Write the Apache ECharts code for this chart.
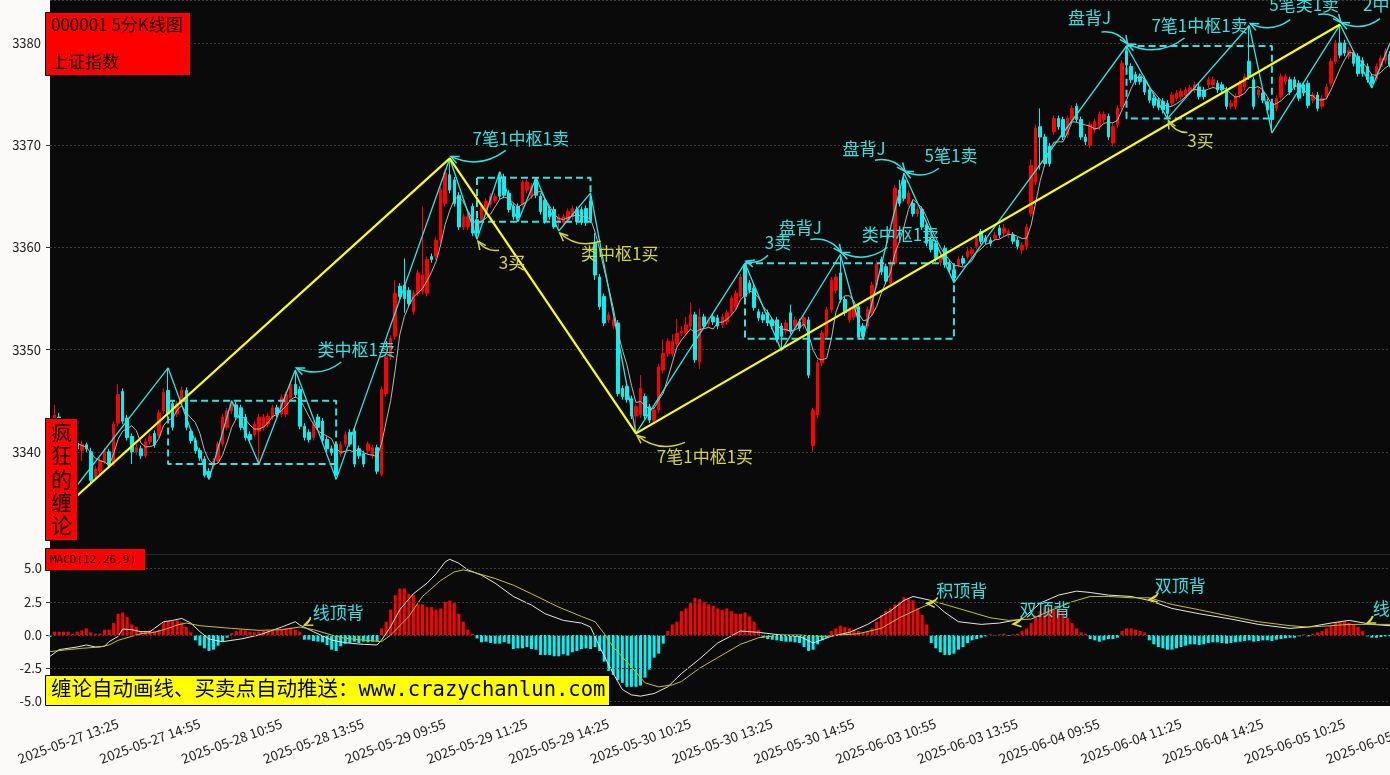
<!DOCTYPE html>
<html><head><meta charset="utf-8">
<script src="https://cdn.jsdelivr.net/npm/echarts@6/dist/echarts.min.js"></script>
<style>html,body{margin:0;padding:0;background:#fcf9f9;}#c{width:1390px;height:775px;}</style>
</head><body><div id="c"></div>
<script>
// ---------------- DATA ----------------
const tradingDays = ['2025-05-27','2025-05-28','2025-05-29','2025-05-30','2025-06-03','2025-06-04','2025-06-05'];
const firstBarTime = '13:05';
// [open, close, low, high]
const ohlc = [
[3334.6,3334.0,3333.3,3335.4],[3334.2,3343.6,3334.0,3344.6],[3343.4,3342.0,3341.6,3343.8],[3342.1,3341.0,3340.7,3342.4],[3341.0,3340.2,3339.9,3341.4],
[3340.2,3340.8,3339.9,3341.1],[3340.8,3340.3,3340.0,3341.2],[3340.1,3340.75,3339.1,3341.1],[3340.7,3340.3,3340.0,3340.9],[3340.0,3337.2,3336.9,3340.4],
[3337.5,3338.3,3337.2,3338.6],[3338.1,3339.1,3337.8,3339.4],[3339.0,3340.1,3338.8,3340.4],[3340.0,3338.7,3338.4,3340.3],[3338.8,3342.7,3338.6,3343.0],
[3342.8,3345.6,3342.5,3346.6],[3345.9,3343.0,3342.7,3346.2],[3343.3,3341.4,3341.1,3343.6],[3341.5,3340.0,3338.8,3341.8],[3340.0,3340.4,3339.7,3340.8],
[3340.3,3339.6,3339.3,3340.6],[3339.6,3341.0,3339.4,3341.3],[3341.0,3341.5,3340.7,3341.8],[3341.8,3340.7,3340.4,3342.1],[3341.6,3343.8,3341.3,3344.1],
[3344.0,3345.8,3343.7,3346.2],[3346.0,3343.7,3343.4,3348.2],[3344.7,3342.4,3342.1,3345.0],[3343.7,3344.7,3343.4,3345.0],[3344.7,3346.0,3344.4,3346.4],
[3346.0,3342.4,3342.1,3346.3],[3342.0,3341.1,3340.8,3342.3],[3341.1,3340.1,3339.8,3341.4],[3340.1,3339.4,3339.1,3340.4],[3339.3,3337.7,3337.5,3339.6],
[3338.1,3337.5,3337.3,3338.4],[3338.6,3339.1,3338.3,3339.4],[3339.1,3340.75,3338.9,3341.0],[3340.75,3343.4,3340.5,3343.7],[3342.4,3344.0,3342.1,3344.3],
[3344.0,3344.7,3343.7,3345.0],[3344.6,3343.4,3343.1,3344.9],[3344.3,3342.4,3342.1,3344.6],[3343.4,3341.4,3341.1,3343.7],[3341.7,3341.2,3340.9,3342.0],
[3341.7,3342.7,3341.4,3343.0],[3342.0,3343.4,3338.8,3343.7],[3342.4,3343.4,3342.1,3343.7],[3342.7,3343.5,3342.4,3343.8],[3343.4,3344.3,3343.1,3344.6],
[3344.3,3343.7,3343.4,3344.6],[3343.7,3345.3,3343.4,3345.6],[3343.7,3345.6,3343.4,3345.9],[3345.3,3346.6,3345.0,3346.9],[3346.6,3345.6,3345.3,3348.0],
[3346.1,3342.5,3342.2,3346.4],[3342.5,3341.4,3341.1,3342.8],[3341.9,3341.2,3340.9,3342.2],[3341.4,3342.7,3341.1,3343.0],[3343.4,3342.4,3342.1,3343.7],
[3343.0,3341.1,3340.8,3343.3],[3341.2,3340.3,3340.0,3341.5],[3340.3,3339.9,3339.6,3340.6],[3340.7,3337.7,3337.3,3341.0],[3339.8,3340.7,3339.5,3341.0],
[3340.75,3341.7,3340.5,3342.0],[3341.9,3340.75,3340.5,3342.2],[3342.0,3338.8,3338.5,3342.3],[3340.3,3339.6,3339.3,3340.6],[3339.8,3338.8,3338.5,3340.1],
[3340.1,3340.75,3339.8,3341.0],[3339.6,3340.4,3339.3,3340.7],[3340.4,3338.1,3337.8,3340.7],[3337.8,3346.1,3337.6,3346.4],[3345.7,3349.3,3345.4,3349.6],
[3349.3,3351.1,3349.0,3351.4],[3351.3,3355.5,3351.0,3356.8],[3356.2,3355.2,3354.9,3356.5],[3356.3,3355.0,3353.6,3358.9],[3355.8,3354.5,3354.2,3356.1],
[3353.7,3355.5,3353.4,3355.8],[3355.5,3357.5,3355.2,3357.8],[3355.7,3357.3,3355.4,3364.0],[3355.5,3358.8,3355.2,3359.1],[3359.1,3358.8,3358.5,3359.4],
[3359.1,3360.7,3358.8,3361.0],[3360.7,3365.6,3360.4,3365.9],[3364.3,3367.3,3364.0,3367.6],[3367.1,3365.6,3365.3,3368.7],[3366.6,3364.3,3364.0,3366.9],
[3365.1,3362.0,3361.7,3365.4],[3362.0,3363.0,3361.7,3363.3],[3362.0,3363.0,3361.7,3363.3],[3364.0,3361.4,3361.1,3364.3],[3362.7,3361.4,3360.8,3363.0],
[3362.7,3364.0,3362.4,3364.3],[3363.5,3364.5,3363.2,3364.8],[3364.2,3365.0,3363.9,3365.3],[3364.6,3365.0,3364.3,3365.3],[3366.9,3365.0,3364.7,3367.4],
[3366.9,3365.1,3364.8,3367.2],[3365.3,3363.7,3363.4,3365.6],[3364.0,3363.0,3362.7,3364.3],[3364.0,3362.9,3362.5,3364.3],[3364.2,3366.4,3363.9,3366.6],
[3365.6,3366.4,3365.3,3366.7],[3365.0,3366.0,3364.7,3366.3],[3366.6,3365.1,3364.8,3366.8],[3365.0,3363.5,3363.2,3365.3],[3364.6,3362.6,3362.3,3364.9],
[3363.7,3363.0,3362.7,3364.0],[3363.7,3362.0,3361.8,3364.0],[3362.4,3363.0,3361.6,3363.3],[3362.4,3363.0,3362.1,3363.3],[3362.7,3363.5,3362.4,3363.8],
[3363.0,3363.8,3362.7,3364.1],[3363.7,3362.5,3362.2,3364.0],[3363.7,3362.5,3362.2,3364.0],[3363.8,3362.4,3362.1,3364.1],[3364.5,3362.7,3362.4,3365.3],
[3360.5,3357.3,3356.8,3361.4],[3357.1,3354.2,3353.9,3357.4],[3355.2,3352.6,3352.3,3355.5],[3352.9,3353.4,3352.6,3353.7],[3352.3,3352.9,3352.0,3353.2],
[3352.6,3345.7,3345.4,3352.9],[3346.2,3345.4,3345.1,3346.5],[3346.4,3345.1,3344.8,3346.7],[3345.2,3343.5,3343.2,3345.5],[3343.5,3344.4,3341.8,3344.7],
[3343.6,3346.2,3343.3,3347.5],[3345.4,3343.5,3343.2,3345.7],[3344.4,3343.1,3342.8,3344.7],[3343.1,3344.1,3342.8,3344.4],[3344.1,3348.3,3343.8,3348.6],
[3348.0,3349.6,3347.7,3351.0],[3349.6,3350.8,3349.3,3351.1],[3349.6,3350.8,3349.3,3351.5],[3350.6,3351.6,3350.3,3353.0],[3351.6,3351.8,3351.3,3352.3],
[3351.6,3352.4,3351.3,3353.2],[3352.3,3353.4,3352.0,3354.6],[3353.4,3349.0,3348.7,3353.7],[3348.8,3353.2,3348.1,3354.0],[3353.2,3352.3,3352.0,3353.5],
[3352.5,3352.9,3352.2,3353.2],[3353.2,3352.7,3352.4,3353.5],[3353.1,3352.3,3352.0,3353.4],[3352.4,3353.2,3352.1,3353.5],[3352.7,3353.6,3352.4,3353.9],
[3353.6,3355.0,3353.3,3355.3],[3354.2,3355.5,3353.9,3355.8],[3355.2,3357.1,3354.9,3357.4],[3358.3,3355.2,3354.9,3358.45],[3356.5,3355.8,3355.5,3356.8],
[3356.0,3354.1,3353.8,3356.3],[3353.7,3353.1,3352.8,3354.0],[3353.4,3352.9,3352.6,3353.7],[3353.6,3352.6,3352.3,3353.9],[3352.9,3352.3,3352.0,3353.2],
[3352.9,3351.0,3350.7,3353.2],[3352.3,3351.3,3349.9,3352.6],[3351.8,3352.6,3351.5,3352.9],[3353.6,3351.8,3351.5,3354.4],[3352.3,3352.9,3352.0,3353.2],
[3352.7,3352.1,3351.8,3353.0],[3352.3,3353.1,3352.0,3353.4],[3352.9,3347.5,3347.2,3353.2],[3340.6,3344.1,3340.0,3344.3],[3343.6,3348.7,3343.3,3349.0],
[3348.7,3351.6,3348.4,3351.9],[3351.3,3353.9,3351.0,3354.2],[3353.9,3356.8,3353.6,3357.1],[3355.8,3357.1,3355.5,3357.4],[3357.5,3354.9,3354.6,3359.3],
[3354.9,3353.6,3353.3,3355.2],[3352.9,3353.9,3352.6,3354.2],[3353.2,3354.2,3352.9,3354.5],[3354.2,3351.2,3351.2,3354.5],[3352.3,3351.3,3351.05,3352.6],
[3352.3,3353.9,3352.0,3354.2],[3353.6,3356.3,3353.3,3356.6],[3356.3,3358.4,3356.0,3358.7],[3358.8,3357.6,3357.3,3359.1],[3358.1,3356.7,3356.4,3358.4],
[3356.5,3358.45,3356.2,3358.8],[3358.45,3365.8,3358.2,3366.1],[3365.6,3364.3,3364.0,3366.6],[3366.6,3364.8,3364.5,3367.25],[3364.3,3365.3,3364.0,3365.6],
[3364.3,3363.3,3363.0,3364.6],[3363.3,3363.7,3363.0,3364.0],[3363.7,3362.0,3361.7,3364.0],[3362.2,3360.4,3360.1,3362.5],[3360.7,3359.8,3359.5,3361.0],
[3360.4,3358.9,3358.6,3360.7],[3358.5,3359.1,3358.2,3359.4],[3359.9,3358.3,3358.0,3360.2],[3358.45,3357.8,3357.5,3358.8],[3357.8,3357.0,3356.55,3358.1],
[3358.3,3358.8,3358.0,3359.1],[3358.9,3358.45,3358.2,3359.2],[3359.1,3359.6,3358.8,3359.9],[3359.4,3359.75,3359.1,3360.0],[3360.1,3360.9,3359.8,3361.2],
[3361.55,3360.6,3360.3,3361.8],[3360.9,3360.6,3360.3,3361.2],[3360.7,3360.4,3360.1,3361.0],[3360.9,3361.2,3360.6,3361.5],[3361.9,3361.2,3360.9,3362.2],
[3361.4,3361.9,3361.1,3362.3],[3361.2,3361.55,3360.9,3361.8],[3361.2,3360.6,3360.3,3361.5],[3360.7,3360.1,3359.8,3361.0],[3359.75,3360.2,3359.3,3360.5],
[3360.1,3362.0,3359.8,3362.3],[3363.3,3368.0,3363.0,3368.6],[3366.4,3371.65,3366.1,3372.0],[3371.8,3370.8,3367.6,3373.6],[3370.8,3368.2,3367.9,3371.1],
[3369.9,3368.2,3367.9,3370.2],[3371.3,3372.6,3371.0,3372.9],[3372.6,3371.8,3371.5,3372.9],[3372.5,3370.8,3370.5,3372.8],[3371.0,3372.6,3370.7,3372.9],
[3372.5,3373.6,3372.2,3373.9],[3373.8,3372.5,3372.2,3374.1],[3372.5,3370.8,3370.5,3372.8],[3370.8,3370.35,3370.0,3371.1],[3370.0,3372.0,3369.7,3372.3],
[3371.5,3372.3,3371.2,3372.6],[3371.8,3373.0,3371.5,3373.3],[3372.5,3373.0,3372.2,3373.3],[3372.8,3370.8,3370.5,3373.1],[3370.2,3371.8,3369.9,3372.1],
[3372.0,3373.6,3371.7,3373.9],[3373.8,3378.0,3373.5,3378.3],[3379.2,3377.85,3377.5,3379.7],[3377.7,3376.4,3376.1,3378.0],[3376.9,3376.2,3375.9,3377.2],
[3376.7,3376.2,3375.9,3377.0],[3376.4,3375.2,3374.9,3376.7],[3375.4,3374.4,3374.1,3375.7],[3374.6,3373.9,3373.6,3374.9],[3374.4,3373.7,3373.4,3374.7],
[3374.3,3373.45,3373.1,3374.6],[3374.1,3373.1,3372.6,3374.4],[3374.1,3374.9,3373.8,3375.2],[3374.6,3375.1,3374.3,3375.4],[3374.75,3375.25,3374.45,3375.55],
[3374.9,3375.4,3374.6,3375.7],[3375.2,3375.6,3374.9,3375.9],[3375.4,3375.9,3375.1,3376.2],[3375.7,3374.75,3374.45,3376.0],[3375.4,3374.75,3374.45,3375.7],
[3375.9,3376.4,3375.6,3376.7],[3375.9,3376.4,3375.6,3376.7],[3376.05,3375.4,3375.1,3376.35],[3375.9,3375.4,3375.1,3376.2],[3375.4,3373.8,3373.5,3375.7],
[3373.8,3374.1,3373.5,3374.4],[3373.8,3374.75,3373.5,3375.05],[3374.9,3376.05,3374.6,3376.35],[3375.7,3376.7,3375.4,3377.0],[3378.2,3376.7,3376.4,3381.7],
[3376.4,3373.8,3373.5,3376.7],[3374.9,3375.4,3374.6,3375.7],[3375.1,3374.4,3374.1,3375.4],[3374.25,3373.45,3373.15,3374.55],[3374.1,3372.5,3371.2,3374.4],
[3373.6,3374.6,3373.3,3374.9],[3374.75,3376.7,3374.45,3377.0],[3376.2,3376.7,3375.9,3377.0],[3376.4,3375.2,3374.9,3376.7],[3376.4,3375.7,3375.4,3376.7],
[3376.05,3374.6,3374.3,3376.35],[3375.9,3375.1,3374.8,3376.2],[3376.05,3373.9,3373.6,3376.35],[3374.4,3374.9,3374.1,3375.2],[3374.9,3373.6,3373.3,3375.2],
[3373.8,3374.6,3373.5,3374.9],[3374.75,3375.7,3374.45,3376.0],[3376.05,3378.2,3375.75,3378.5],[3378.2,3380.0,3377.9,3380.3],[3380.0,3378.8,3378.5,3381.8],
[3380.0,3379.0,3378.7,3380.3],[3378.7,3379.3,3378.4,3379.6],[3379.0,3378.0,3377.7,3379.3],[3378.7,3377.0,3376.7,3379.0],[3378.3,3377.0,3376.7,3378.6],
[3377.7,3376.4,3376.1,3378.0],[3376.7,3376.05,3375.6,3377.0],[3376.5,3377.7,3376.2,3378.0],[3377.7,3378.5,3377.4,3378.8],[3378.3,3379.2,3378.0,3379.5],
[3378.9,3377.9,3377.6,3379.2]
];
// Chan "bi" strokes (bar index, price)
const biPoints = [[0,3333.3],[26,3348.2],[35,3337.3],[40,3345.0],[46,3338.8],[54,3348.0],[63,3337.3],[88,3368.7],[94,3360.8],[99,3367.4],[103,3362.5],[107,3366.8],[112,3361.6],[119,3365.3],[129,3341.8],[153,3358.45],[161,3349.9],[174,3359.3],[179,3351.05],[188,3367.25],[199,3356.55],[237,3379.7],[246,3372.6],[264,3381.7],[269,3371.2],[284,3381.8],[291,3375.6],[295,3380.0]];
// line segments
const segPoints = [[0,3333.3],[88,3368.7],[129,3341.8],[284,3381.8]];
// pivot zones: [startIdx, endIdx, top, bottom]
const zhongshu = [[26,63,3345.0,3338.8],[94,119,3366.8,3362.5],[153,199,3358.45,3351.05],[237,269,3379.7,3372.6]];
// MACD histogram per bar
const macdHist = [
-0.15,0.25,0.25,0.25,0.25,0.1,0.25,0.35,0.5,0.2,
0.1,0.1,0.4,0.4,0.9,1.6,1.7,1.35,0.8,0.6,
0.3,0.3,0.35,0.3,0.4,1.0,1.05,1.05,1.1,0.95,
0.6,0.2,-0.4,-0.8,-1.0,-1.2,-1.1,-0.8,-0.5,-0.2,
0.15,0.3,0.4,0.35,0.25,0.2,0.25,0.3,0.3,0.35,
0.4,0.45,0.5,0.55,0.4,0.25,-0.35,-0.35,-0.45,-0.5,
-0.55,-0.75,-1.1,-1.2,-0.85,-0.65,-0.6,-0.5,-0.6,-0.5,
-0.55,-0.5,-0.45,0.5,1.0,1.9,3.0,3.5,3.5,3.1,
3.0,2.3,2.3,2.1,2.1,1.9,2.0,2.5,2.6,2.4,
1.6,1.0,0.4,0.1,-0.25,-0.55,-0.5,-0.6,-0.65,-0.65,
-0.55,-0.65,-1.05,-1.0,-1.0,-0.9,-1.05,-1.1,-1.5,-1.5,
-1.5,-1.6,-1.6,-1.45,-1.55,-1.3,-1.2,-1.05,-1.0,-1.05,
-0.9,-1.2,-2.0,-2.7,-3.0,-3.4,-3.6,-3.9,-3.9,-3.9,
-3.8,-3.2,-2.6,-1.7,-1.4,-0.65,0.3,0.8,1.0,1.8,
2.0,2.4,2.8,2.7,2.5,2.3,2.2,2.0,1.9,2.0,
1.8,1.6,1.6,1.7,1.4,1.0,0.4,-0.2,-0.3,-0.35,
-0.4,-0.45,-0.5,-0.5,-0.55,-0.6,-0.9,-1.2,-1.1,-0.7,
-0.4,-0.2,0.3,0.5,0.7,0.6,0.5,0.4,0.3,0.2,
0.3,0.5,1.0,1.5,1.8,2.0,2.3,2.5,2.85,2.7,
2.6,2.0,1.5,0.8,-0.6,-1.0,-1.3,-1.5,-1.5,-1.4,
-1.1,-0.9,-0.6,-0.4,-0.3,-0.2,-0.1,0.05,-0.05,0.05,
0.1,-0.05,0.05,0.1,0.3,0.5,0.9,1.4,1.8,2.1,
2.0,1.9,2.0,1.7,1.3,0.9,0.5,0.2,0.1,-0.3,
-0.4,-0.5,-0.4,-0.3,-0.3,-0.2,0.3,0.5,0.5,0.4,
0.3,0.2,-0.4,-0.7,-0.9,-1.0,-1.1,-1.1,-1.0,-0.9,
-0.8,-0.7,-0.7,-0.75,-0.7,-0.6,-0.55,-0.55,-0.6,-0.65,
-0.6,-0.55,-0.5,-0.45,-0.4,-0.5,-0.45,-0.4,-0.4,-0.45,
-0.35,-0.3,-0.25,-0.2,-0.2,-0.1,0.05,-0.1,0.1,0.2,
0.3,0.5,0.7,0.9,1.0,1.0,0.9,0.8,0.6,0.3,
-0.1,-0.2,-0.2,-0.15,-0.1,-0.1
];
const difPoints = [[0,-1.6],[2,-1.1],[4,-1.0],[6,-0.9],[8,-0.75],[10,-0.9],[12,-0.85],[13,-0.5],[15,-0.1],[16,0.45],[18,0.4],[20,0.25],[22,0.25],[23,0.5],[25,1.0],[27,1.1],[29,1.25],[31,0.9],[33,0.25],[35,-0.3],[38,-0.5],[42,-0.3],[46,0.0],[51,0.6],[54,1.0],[55,0.75],[58,0.25],[62,-0.38],[65,-0.58],[68,-0.68],[72,-0.75],[73,-0.38],[75,0.63],[77,1.9],[80,3.1],[83,3.9],[85,4.6],[87,5.5],[88,5.7],[90,5.4],[92,4.9],[95,4.5],[98,3.9],[102,2.9],[106,2.25],[109,1.6],[113,1.1],[117,0.9],[119,0.6],[121,-0.9],[124,-2.9],[126,-4.1],[128,-4.5],[130,-4.6],[133,-4.4],[136,-3.9],[139,-2.9],[143,-1.8],[147,-0.6],[152,0.3],[156,0.2],[161,0.0],[165,-0.1],[168,-0.6],[172,-0.1],[176,0.2],[180,0.8],[185,1.8],[188,2.6],[190,2.9],[194,2.6],[197,1.7],[200,1.0],[205,0.8],[209,0.9],[214,1.2],[218,2.4],[222,3.0],[226,3.3],[229,3.2],[233,3.0],[238,2.9],[242,2.6],[247,2.0],[253,1.6],[260,1.2],[266,0.8],[273,0.5],[277,0.6],[282,0.9],[286,1.1],[291,0.8],[295,0.7]];
const deaPoints = [[0,-1.25],[4,-1.1],[7,-1.0],[11,-0.9],[13,-0.75],[15,-0.4],[18,-0.1],[20,0.1],[23,0.2],[26,0.5],[28,0.75],[30,0.9],[33,0.7],[40,0.5],[46,0.35],[51,0.4],[55,0.6],[58,0.4],[62,0.0],[65,-0.25],[69,-0.38],[73,-0.5],[75,0.0],[79,1.4],[82,2.9],[86,4.1],[89,4.75],[91,4.9],[93,4.75],[98,4.25],[102,3.75],[106,3.1],[112,2.1],[117,1.4],[120,1.0],[122,0.1],[124,-0.9],[128,-2.4],[131,-3.6],[134,-3.9],[137,-3.75],[139,-3.5],[143,-2.5],[148,-1.5],[152,-0.7],[156,-0.2],[161,0.0],[165,0.0],[170,-0.1],[174,0.0],[178,0.1],[183,0.5],[187,1.3],[192,2.1],[195,2.5],[198,2.2],[203,1.7],[207,1.3],[211,1.1],[216,1.2],[220,1.8],[225,2.5],[229,2.9],[233,2.9],[238,2.8],[242,2.8],[247,2.3],[253,1.9],[260,1.4],[266,1.0],[273,0.7],[277,0.6],[282,0.7],[286,0.8],[291,0.8],[295,0.8]];
const priceTicks = [3340,3350,3360,3370,3380];
const macdTicks = [-5,-2.5,0,2.5,5];
// annotations: text, anchor [barIndex, value], colour kind
const mainNotes = [
 ['类中枢1卖',[54,3348.0],'c'],['7笔1中枢1卖',[88,3368.7],'c'],['3买',[94,3360.8],'y'],['类中枢1买',[112,3361.6],'y'],
 ['7笔1中枢1买',[129,3341.8],'y'],['3卖',[153,3358.45],'c'],['盘背J',[174,3359.3],'c'],['类中枢1卖',[174,3359.3],'c'],
 ['盘背J',[188,3367.25],'c'],['5笔1卖',[188,3367.25],'c'],['盘背J',[237,3379.7],'c'],['7笔1中枢1卖',[237,3379.7],'c'],
 ['3买',[246,3372.6],'y'],['5笔类1卖',[264,3381.7],'c'],['',[284,3381.8],'c'],['2中枢1卖',[284,3381.8],'c']
];
const macdNotes = [['线顶背',[56,0.68]],['积顶背',[193,2.3]],['双顶背',[212,0.75]],['双顶背',[242,2.6]],['线顶背',[290,0.83]]];

// ---------------- LAYOUT / STYLE ----------------
// [text dx, text dy, arrow-start dx, arrow-start dy] relative to anchor pixel
const mainNoteLayout = [[61,-20,46,-8],[71,-20,56,-8],[35,23,22,11],[61,23,42,10],[69,23,49,9],[33,-21,23,-8],[-40,-27,-30,-15],[60,-20,47,-7],
 [-40,-25,-29,-13],[47,-18,35,-5],[-37,-28,-25,-14],[73,-20,58,-8],[33,22,20,14],[55,-21,41,-6],[0,0,-22,-10],[58,-20,40,-6]];
const macdNoteLayout = [[34,-13,6,-9],[35,-14,11,-7],[32,-16,9,-8],[31,-15,9,-8],[31,-15,5,-8]];
const CYAN='#35e2e2', YEL='#d4d43c', RED='#ff0000', CANDLE_CYAN='#00f2f2';
const FONT='"Noto Sans CJK SC"';

function sessionTimes(){
  const t=[];
  for(let m=9*60+35;m<=11*60+30;m+=5)t.push(m);
  for(let m=13*60+5;m<=15*60;m+=5)t.push(m);
  return t.map(m=>String(Math.floor(m/60)).padStart(2,'0')+':'+String(m%60).padStart(2,'0'));
}
const times=sessionTimes();
const categories=[];
tradingDays.forEach((d,k)=>{const s=k===0?times.indexOf(firstBarTime):0;for(let j=s;j<times.length;j++)categories.push(d+' '+times[j]);});
categories.length=ohlc.length;
const closes=ohlc.map(r=>r[1]);
const ma5=closes.map((c,i)=>{if(i<4)return null;let s=0;for(let k=i-4;k<=i;k++)s+=closes[k];return +(s/5).toFixed(3);});

const chart=echarts.init(document.getElementById('c'),null,{renderer:'canvas'});
const grid0={left:50,top:0,right:0,height:554,show:true,backgroundColor:'#0a0a0a',borderWidth:0,containLabel:false,outerBoundsMode:'none'};
const grid1={left:50,top:553,right:0,height:153,show:true,backgroundColor:'#0a0a0a',borderWidth:0,containLabel:false,outerBoundsMode:'none'};
const dotted={color:'#3d3d3d',type:[2,2],width:1};
const boxSeries=zhongshu.map(z=>({type:'line',xAxisIndex:0,yAxisIndex:0,symbol:'none',silent:true,z:4,
  data:[[z[0],z[2]],[z[1],z[2]],[z[1],z[3]],[z[0],z[3]],[z[0],z[2]]],
  lineStyle:{color:CYAN,width:2,type:[7,4]}}));
const option={
  animation:false,
  backgroundColor:'#fcf9f9',
  grid:[grid0,grid1],
  xAxis:[
    {type:'category',gridIndex:0,data:categories,boundaryGap:false,axisLine:{show:true,lineStyle:{color:'#2a2a2a'}},axisTick:{show:false},axisLabel:{show:false},splitLine:{show:false}},
    {type:'category',gridIndex:1,data:categories,boundaryGap:false,axisLine:{show:true,lineStyle:{color:'#111'}},
      axisTick:{show:true,interval:(i)=>i%18===4,length:5,lineStyle:{color:'#222'}},
      axisLabel:{show:true,interval:(i)=>i%18===4,rotate:20,align:'center',verticalAlign:'middle',margin:35,color:'#222',fontSize:13.5,fontFamily:FONT,hideOverlap:false},
      splitLine:{show:false}}
  ],
  yAxis:[
    {type:'value',gridIndex:0,min:3330,max:3384.2,interval:10,axisLine:{show:false},
     axisTick:{show:true,length:4,lineStyle:{color:'#333'}},
     axisLabel:{color:'#222',fontSize:13,fontFamily:FONT,margin:9,showMinLabel:false,showMaxLabel:false,formatter:v=>String(v)},
     splitLine:{show:true,lineStyle:dotted}},
    {type:'value',gridIndex:1,min:-5.34,max:6.17,axisLine:{show:false},
     axisTick:{show:true,length:4,customValues:macdTicks,lineStyle:{color:'#333'}},
     axisLabel:{color:'#222',fontSize:13,fontFamily:FONT,margin:8,customValues:macdTicks,formatter:v=>v.toFixed(1)},
     splitLine:{show:false}}
  ],
  series:[
    {type:'candlestick',xAxisIndex:0,yAxisIndex:0,data:ohlc,barWidth:3,z:2,
     itemStyle:{color:RED,color0:CANDLE_CYAN,borderColor:RED,borderColor0:CANDLE_CYAN,borderWidth:1}},
    {type:'line',xAxisIndex:0,yAxisIndex:0,data:ma5,symbol:'none',silent:true,z:3,lineStyle:{color:'#b8b8b8',width:1}},
    ...boxSeries,
    {type:'line',xAxisIndex:0,yAxisIndex:0,data:biPoints,symbol:'none',silent:true,z:5,lineStyle:{color:CYAN,width:1.3}},
    {type:'line',xAxisIndex:0,yAxisIndex:0,data:segPoints,symbol:'none',silent:true,z:6,lineStyle:{color:'#ffff00',width:2.2}},
    {type:'bar',xAxisIndex:1,yAxisIndex:1,barWidth:3,silent:true,z:2,
     data:macdHist.map(v=>({value:v,itemStyle:{color:v>=0?RED:CANDLE_CYAN}})),
     markLine:{silent:true,symbol:'none',label:{show:false},lineStyle:{color:'#3d3d3d',type:[2,2],width:1},
       data:macdTicks.map(v=>({yAxis:v}))}},
    {type:'line',xAxisIndex:1,yAxisIndex:1,data:difPoints,symbol:'none',silent:true,z:3,lineStyle:{color:'#e6e6e6',width:1}},
    {type:'line',xAxisIndex:1,yAxisIndex:1,data:deaPoints,symbol:'none',silent:true,z:3,lineStyle:{color:'#c4c41a',width:1}}
  ]
};
chart.setOption(option);

function arrow(x1,y1,x2,y2,color,rad){
  const dx=x2-x1, dyD=-(y2-y1);
  const mx=(x1+x2)/2, myD=-(y1+y2)/2;
  const cx=mx+rad*dyD, cy=-(myD-rad*dx);
  const ang=Math.atan2(y2-cy,x2-cx), L=9, a=0.42;
  const p1=[x2-L*Math.cos(ang-a),y2-L*Math.sin(ang-a)], p2=[x2-L*Math.cos(ang+a),y2-L*Math.sin(ang+a)];
  return [
    {type:'bezierCurve',z:100,silent:true,shape:{x1:x1,y1:y1,x2:x2,y2:y2,cpx1:cx,cpy1:cy},style:{stroke:color,lineWidth:1.5,fill:null}},
    {type:'polyline',z:100,silent:true,shape:{points:[p1,[x2,y2],p2]},style:{stroke:color,lineWidth:1.5,fill:null}}
  ];
}
const els=[];
mainNotes.forEach((n,k)=>{
  const L=mainNoteLayout[k];
  const p=chart.convertToPixel({gridIndex:0},n[1]);
  const col=n[2]==='y'?YEL:CYAN;
  if(n[0]) els.push({type:'text',z:101,silent:true,x:p[0]+L[0],y:p[1]+L[1],style:{text:n[0],fill:col,font:'17px '+FONT,align:'center',verticalAlign:'middle'}});
  els.push(...arrow(p[0]+L[2],p[1]+L[3],p[0]+1,p[1]-(L[3]<0?2:-2),col,-0.3));
});
macdNotes.forEach((n,k)=>{
  const L=macdNoteLayout[k];
  const p=chart.convertToPixel({gridIndex:1},n[1]);
  els.push({type:'text',z:101,silent:true,x:p[0]+L[0],y:p[1]+L[1],style:{text:n[0],fill:CYAN,font:'17px '+FONT,align:'center',verticalAlign:'middle'}});
  els.push(...arrow(p[0]+L[2],p[1]+L[3],p[0],p[1]-1,'#e2e21e',-0.3));
});
// fixed chrome boxes
els.push({type:'rect',z:110,shape:{x:45.5,y:12.5,width:145,height:63},style:{fill:'#ff0000',stroke:'#000',lineWidth:1}});
els.push({type:'text',z:111,x:51,y:25,style:{text:'000001 5分K线图',fill:'#000',font:'17px '+FONT,verticalAlign:'middle'}});
els.push({type:'text',z:111,x:51,y:62,style:{text:'上证指数',fill:'#000',font:'17px '+FONT,verticalAlign:'middle'}});
els.push({type:'rect',z:110,shape:{x:45.5,y:418.5,width:32,height:122},style:{fill:'#ff0000',stroke:'#000',lineWidth:1}});
['疯','狂','的','缠','论'].forEach((ch,k)=>els.push({type:'text',z:111,x:61.5,y:432+k*23.3,style:{text:ch,fill:'#000',font:'21px '+FONT,align:'center',verticalAlign:'middle'}}));
els.push({type:'rect',z:110,shape:{x:45.5,y:548.5,width:100,height:22},style:{fill:'#ff0000',stroke:'#000',lineWidth:1}});
els.push({type:'text',z:111,x:50,y:560,style:{text:'MACD(12,26,9)',fill:'#000',font:'11px "DejaVu Sans Mono"',verticalAlign:'middle'}});
els.push({type:'rect',z:110,shape:{x:45.5,y:675.5,width:564,height:30},style:{fill:'#ffff00',stroke:'#000',lineWidth:1}});
els.push({type:'text',z:111,x:51,y:691,style:{text:'缠论自动画线、买卖点自动推送：www.crazychanlun.com',fill:'#000',font:'20.5px "DejaVu Sans Mono", '+FONT,verticalAlign:'middle'}});
chart.setOption({graphic:{elements:els}});
</script></body></html>
